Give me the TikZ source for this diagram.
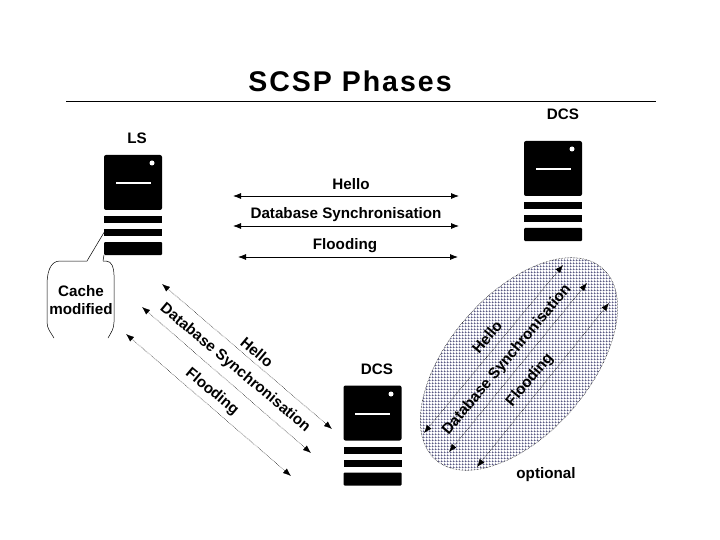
\documentclass[tikz,border=0pt]{standalone}
\usepackage{fontspec}
\setmainfont{Liberation Sans}
\usetikzlibrary{positioning}
\usetikzlibrary{shapes.geometric}
\usetikzlibrary{patterns}
\usetikzlibrary{arrows.meta}

\pgfdeclarepatternformonly{zonegrid}{\pgfqpoint{0pt}{0pt}}{\pgfqpoint{3pt}{3pt}}{\pgfqpoint{3pt}{3pt}}{
\pgfpathrectangle{\pgfqpoint{0pt}{0pt}}{\pgfqpoint{3pt}{0.6pt}}
\pgfpathrectangle{\pgfqpoint{0pt}{0pt}}{\pgfqpoint{0.6pt}{3pt}}
\pgfusepath{fill}
}

\begin{document}
\begin{tikzpicture}[
x=1pt, y=-1pt,
every node/.style={inner sep=0, outer sep=0, font=\bfseries\fontsize{15.2}{18}\selectfont},
rackbody/.style={fill=black, rounded corners=2pt, minimum width=58pt, minimum height=55pt},
rackbar/.style={fill=black, minimum width=58pt, minimum height=7pt, below=6pt of #1},
rackbase/.style={fill=black, rounded corners=1pt, minimum width=58pt, minimum height=13pt, below=6pt of #1},
rackled/.style={circle, fill=white, minimum size=5pt},
rackslot/.style={fill=white, minimum width=35pt, minimum height=1.3pt},
flowline/.style={line width=0.8pt, {Latex[length=8pt,width=6pt]}-{Latex[length=8pt,width=6pt]}},
slantline/.style={line width=0.5pt, densely dotted, {Latex[length=8pt,width=6pt]}-{Latex[length=8pt,width=6pt]}}
]
\useasboundingbox (0,0) rectangle (720,540);

\node[font=\bfseries\fontsize{28.5}{30}\selectfont\addfontfeatures{LetterSpace=7}] (title) at (350,81) {SCSP Phases};
\coordinate (ruleleft) at (66,101);
\coordinate (ruleright) at (656,101);
\draw[line width=0.7pt] (ruleleft) -- (ruleright);

\node[pattern=zonegrid, pattern color=black!75!blue, draw=black, densely dotted, line width=0.5pt, ellipse, rotate=49, minimum width=254pt, minimum height=140pt] (zone) at (519,364) {};

\node[rackbody] (lsbody) at (133,182.5) {};
\node[rackbar=lsbody] (lsbara) {};
\node[rackbar=lsbara] (lsbarb) {};
\node[rackbase=lsbarb] (lsbarc) {};
\node[rackled] (lsled) at (152,163) {};
\node[rackslot] (lsslot) at (133,183) {};
\node (lslabel) at (137,138) {LS};

\node[rackbody] (topbody) at (553,168.5) {};
\node[rackbar=topbody] (topbara) {};
\node[rackbar=topbara] (topbarb) {};
\node[rackbase=topbarb] (topbarc) {};
\node[rackled] (topled) at (572,149) {};
\node[rackslot] (topslot) at (553,169) {};
\node (toplabel) at (563,114) {DCS};

\node[rackbody] (lowbody) at (372.5,413) {};
\node[rackbar=lowbody] (lowbara) {};
\node[rackbar=lowbara] (lowbarb) {};
\node[rackbase=lowbarb] (lowbarc) {};
\node[rackled] (lowled) at (391,394) {};
\node[rackslot] (lowslot) at (372.5,414) {};
\node (lowlabel) at (377,369) {DCS};

\node (hellotop) at (351,184) {Hello};
\node (dbtop) at (346,214.5) {Database Synchronisation};
\node (floodtop) at (345,245.5) {Flooding};
\coordinate (helloa) at (233,196);
\coordinate (hellob) at (459,196);
\coordinate (dba) at (233,226);
\coordinate (dbb) at (459,226);
\coordinate (flooda) at (238,257);
\coordinate (floodb) at (458,257);
\draw[flowline] (helloa) -- (hellob);
\draw[flowline] (dba) -- (dbb);
\draw[flowline] (flooda) -- (floodb);

\node[rotate=-40] (hellolow) at (257,352) {Hello};
\node[rotate=-40] (dblow) at (235,368) {Database Synchronisation};
\node[rotate=-40] (floodlow) at (212,392) {Flooding};
\coordinate (hellolowa) at (162,284);
\coordinate (hellolowb) at (332,429);
\coordinate (dblowa) at (142,307);
\coordinate (dblowb) at (311,453);
\coordinate (floodlowa) at (126,334);
\coordinate (floodlowb) at (291,476);
\draw[slantline] (hellolowa) -- (hellolowb);
\draw[slantline] (dblowa) -- (dblowb);
\draw[slantline] (floodlowa) -- (floodlowb);

\node[rotate=50] (hellozone) at (487,337) {Hello};
\node[rotate=50] (dbzone) at (507,360) {Database Synchronisation};
\node[rotate=50] (floodzone) at (530,380) {Flooding};
\coordinate (hellozonea) at (424,433);
\coordinate (hellozoneb) at (563,265);
\coordinate (dbzonea) at (449,452);
\coordinate (dbzoneb) at (587,283);
\coordinate (floodzonea) at (477,467);
\coordinate (floodzoneb) at (609,303);
\draw[slantline] (hellozonea) -- (hellozoneb);
\draw[slantline] (dbzonea) -- (dbzoneb);
\draw[slantline] (floodzonea) -- (floodzoneb);
\node (optional) at (546,474.5) {optional};

\node[align=center] (cache) at (81,300) {Cache\\modified};
\coordinate (tipleft) at (87,261);
\coordinate (tipright) at (103,261);
\draw[line width=0.5pt] (tipleft) -- (lsbarb.west);
\draw[line width=0.5pt] (tipright) -- (lsbarc.south west);
\draw[line width=0.5pt] (tipleft) -- (60,261) to[out=180, in=90] (47,285) -- (47,322) to[out=270, in=120] (54,338);
\draw[line width=0.5pt] (tipright) -- (106,261) to[out=0, in=90] (114,275) -- (114,322) to[out=270, in=60] (108,338);
\end{tikzpicture}
\end{document}
